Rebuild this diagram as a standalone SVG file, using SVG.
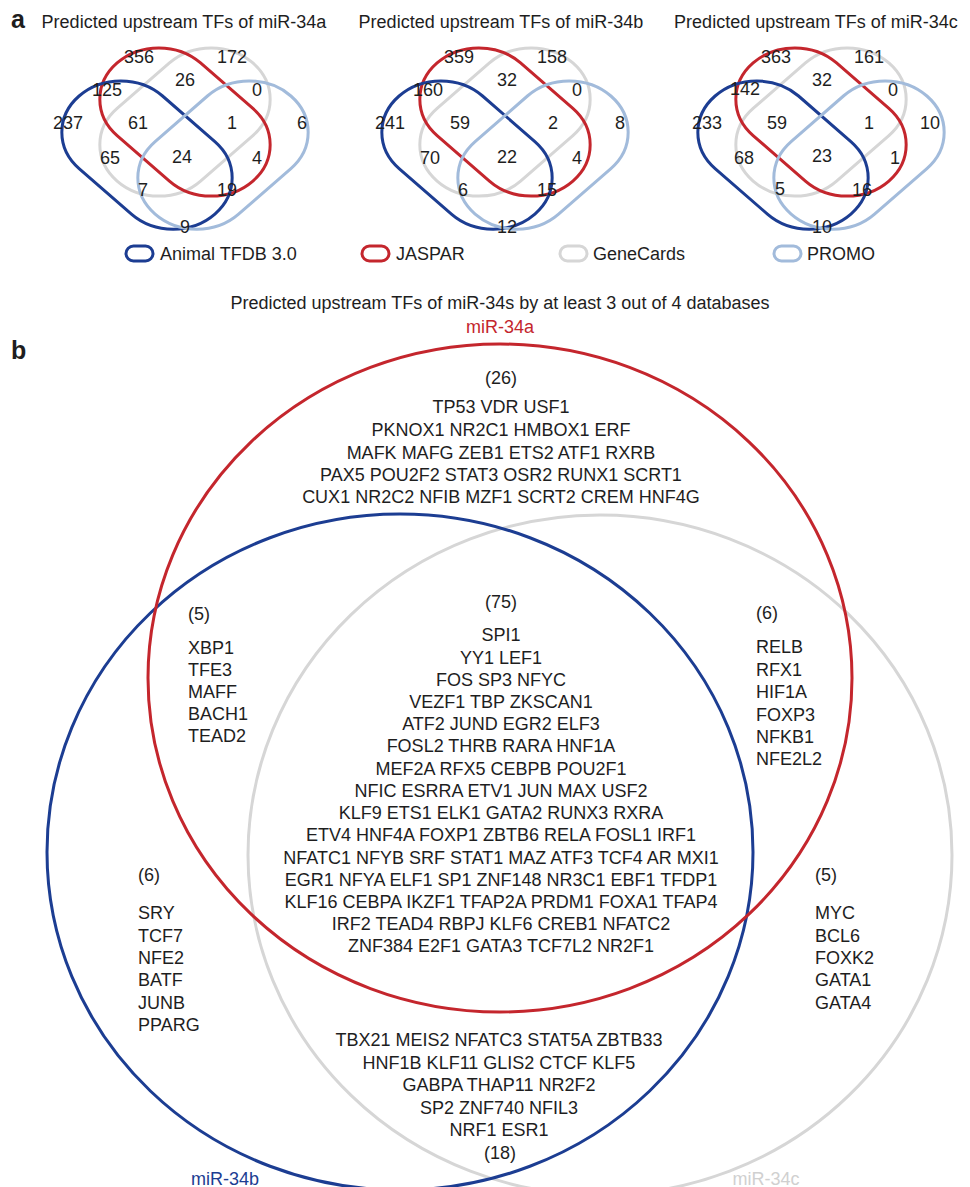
<svg xmlns="http://www.w3.org/2000/svg" width="970" height="1187" viewBox="0 0 970 1187" xml:space="preserve">
<style>
text{font-family:"Liberation Sans",Arial,Helvetica,sans-serif;font-size:18px;fill:#1e1e1e}
.m{text-anchor:middle}
.lab{font-weight:bold;font-size:25px}
.s{fill:none;stroke-width:3;vector-effect:non-scaling-stroke}
.bl{stroke:#1c3d92}
.rd{stroke:#c4262d}
.gy{stroke:#d6d6d6}
.lb{stroke:#a2bbdb}
.big{fill:none;stroke-width:3}
</style>
<defs>
<g id="quad">
<rect class="s gy" x="-96" y="-59" width="192" height="118" rx="59" transform="rotate(-45)"/>
<rect class="s rd" x="-96" y="-59" width="192" height="118" rx="59" transform="rotate(45)"/>
<rect class="s bl" x="-96" y="-59" width="192" height="118" rx="59" transform="translate(-38,38) rotate(45)"/>
<rect class="s lb" x="-96" y="-59" width="192" height="118" rx="59" transform="translate(38,38) rotate(-45)"/>
</g>
</defs>
<rect width="970" height="1187" fill="#ffffff"/>
<g id="panel-a">
<text class="lab" x="11" y="28">a</text>
<g id="venn-34a">
<text class="m" x="184" y="28">Predicted upstream TFs of miR-34a</text>
<use href="#quad" transform="translate(185,122) scale(1,0.87)"/>
<text class="m" x="139" y="63">356</text><text class="m" x="232" y="63">172</text>
<text class="m" x="107" y="96">125</text><text class="m" x="185" y="86">26</text><text class="m" x="257" y="96">0</text>
<text class="m" x="68" y="129">237</text><text class="m" x="138" y="129">61</text><text class="m" x="232" y="129">1</text><text class="m" x="302" y="129">6</text>
<text class="m" x="110" y="164">65</text><text class="m" x="182" y="163">24</text><text class="m" x="257" y="164">4</text>
<text class="m" x="143" y="196">7</text><text class="m" x="227" y="196">19</text>
<text class="m" x="185" y="233">9</text>
</g>
<g id="venn-34b">
<text class="m" x="501" y="28">Predicted upstream TFs of miR-34b</text>
<use href="#quad" transform="translate(505,122) scale(1,0.87)"/>
<text class="m" x="459" y="63">359</text><text class="m" x="552" y="63">158</text>
<text class="m" x="428" y="96">160</text><text class="m" x="507" y="86">32</text><text class="m" x="577" y="96">0</text>
<text class="m" x="390" y="129">241</text><text class="m" x="460" y="129">59</text><text class="m" x="553" y="129">2</text><text class="m" x="620" y="129">8</text>
<text class="m" x="430" y="164">70</text><text class="m" x="507" y="163">22</text><text class="m" x="577" y="164">4</text>
<text class="m" x="463" y="196">6</text><text class="m" x="547" y="196">15</text>
<text class="m" x="507" y="233">12</text>
</g>
<g id="venn-34c">
<text class="m" x="816" y="28">Predicted upstream TFs of miR-34c</text>
<use href="#quad" transform="translate(821,122) scale(1,0.87)"/>
<text class="m" x="776" y="63">363</text><text class="m" x="869" y="63">161</text>
<text class="m" x="745" y="95">142</text><text class="m" x="822" y="86">32</text><text class="m" x="893" y="96">0</text>
<text class="m" x="707" y="129">233</text><text class="m" x="777" y="129">59</text><text class="m" x="869" y="129">1</text><text class="m" x="930" y="129">10</text>
<text class="m" x="744" y="164">68</text><text class="m" x="822" y="162">23</text><text class="m" x="895" y="164">1</text>
<text class="m" x="780" y="195">5</text><text class="m" x="862" y="196">16</text>
<text class="m" x="822" y="233">10</text>
</g>
<g id="legend">
<rect class="s bl" x="126" y="246" width="27" height="15" rx="7.5"/>
<text x="160" y="260">Animal TFDB 3.0</text>
<rect class="s rd" x="362" y="246" width="27" height="15" rx="7.5"/>
<text x="396" y="260">JASPAR</text>
<rect class="s gy" x="560" y="246" width="27" height="15" rx="7.5"/>
<text x="593" y="260">GeneCards</text>
<rect class="s lb" x="774" y="246" width="27" height="15" rx="7.5"/>
<text x="807" y="260">PROMO</text>
</g>
</g>
<g id="panel-b">
<text class="lab" x="11" y="359">b</text>
<text class="m" x="500" y="309">Predicted upstream TFs of miR-34s by at least 3 out of 4 databases</text>
<g id="circles">
<ellipse class="big gy" cx="600" cy="855" rx="352" ry="340"/>
<ellipse class="big bl" cx="400" cy="852" rx="353" ry="338"/>
<ellipse class="big rd" cx="500" cy="678" rx="352" ry="334"/>
</g>
<text class="m" x="500" y="333" style="fill:#c4262d">miR-34a</text>
<text class="m" x="225" y="1185" style="fill:#1c3d92">miR-34b</text>
<text class="m" x="766" y="1185" style="fill:#d0d0d0">miR-34c</text>
<g id="only-34a">
<text class="m" x="501" y="384">(26)</text>
<text class="m" x="501" y="413">TP53 VDR USF1</text>
<text class="m" x="501" y="436">PKNOX1 NR2C1 HMBOX1 ERF</text>
<text class="m" x="501" y="459">MAFK MAFG ZEB1 ETS2 ATF1  RXRB</text>
<text class="m" x="501" y="481">PAX5 POU2F2 STAT3 OSR2 RUNX1  SCRT1</text>
<text class="m" x="501" y="503">CUX1 NR2C2 NFIB MZF1 SCRT2 CREM HNF4G</text>
</g>
<g id="ab">
<text x="188" y="620">(5)</text>
<text x="188" y="654">XBP1</text>
<text x="188" y="676">TFE3</text>
<text x="188" y="698">MAFF</text>
<text x="188" y="720">BACH1</text>
<text x="188" y="742">TEAD2</text>
</g>
<g id="ac">
<text x="756" y="619">(6)</text>
<text x="756" y="653">RELB</text>
<text x="756" y="676">RFX1</text>
<text x="756" y="698">HIF1A</text>
<text x="756" y="721">FOXP3</text>
<text x="756" y="743">NFKB1</text>
<text x="756" y="765">NFE2L2</text>
</g>
<g id="abc">
<text class="m" x="501" y="608">(75)</text>
<text class="m" x="501" y="641">SPI1</text>
<text class="m" x="501" y="664">YY1  LEF1</text>
<text class="m" x="501" y="686">FOS SP3 NFYC</text>
<text class="m" x="501" y="708">VEZF1 TBP ZKSCAN1</text>
<text class="m" x="501" y="730">ATF2 JUND EGR2 ELF3</text>
<text class="m" x="501" y="752">FOSL2 THRB RARA HNF1A</text>
<text class="m" x="501" y="775">MEF2A RFX5  CEBPB  POU2F1</text>
<text class="m" x="501" y="797">NFIC ESRRA ETV1 JUN MAX USF2</text>
<text class="m" x="501" y="819">KLF9 ETS1 ELK1 GATA2 RUNX3 RXRA</text>
<text class="m" x="501" y="841">ETV4 HNF4A FOXP1 ZBTB6 RELA FOSL1 IRF1</text>
<text class="m" x="501" y="864">NFATC1 NFYB SRF STAT1 MAZ ATF3 TCF4 AR MXI1</text>
<text class="m" x="501" y="886">EGR1  NFYA ELF1 SP1 ZNF148 NR3C1 EBF1 TFDP1</text>
<text class="m" x="501" y="908">KLF16 CEBPA IKZF1 TFAP2A PRDM1 FOXA1 TFAP4</text>
<text class="m" x="501" y="930">IRF2 TEAD4 RBPJ KLF6  CREB1 NFATC2</text>
<text class="m" x="501" y="952">ZNF384 E2F1 GATA3 TCF7L2 NR2F1</text>
</g>
<g id="only-34b">
<text x="138" y="881">(6)</text>
<text x="138" y="919">SRY</text>
<text x="138" y="942">TCF7</text>
<text x="138" y="964">NFE2</text>
<text x="138" y="986">BATF</text>
<text x="138" y="1009">JUNB</text>
<text x="138" y="1031">PPARG</text>
</g>
<g id="only-34c">
<text x="815" y="881">(5)</text>
<text x="815" y="919">MYC</text>
<text x="815" y="942">BCL6</text>
<text x="815" y="964">FOXK2</text>
<text x="815" y="986">GATA1</text>
<text x="815" y="1009">GATA4</text>
</g>
<g id="bc">
<text class="m" x="499" y="1046">TBX21 MEIS2 NFATC3 STAT5A ZBTB33</text>
<text class="m" x="499" y="1069">HNF1B KLF11  GLIS2 CTCF KLF5</text>
<text class="m" x="499" y="1091">GABPA THAP11 NR2F2</text>
<text class="m" x="499" y="1114">SP2 ZNF740 NFIL3</text>
<text class="m" x="499" y="1136">NRF1 ESR1</text>
<text class="m" x="500" y="1159">(18)</text>
</g>
</g>
</svg>
